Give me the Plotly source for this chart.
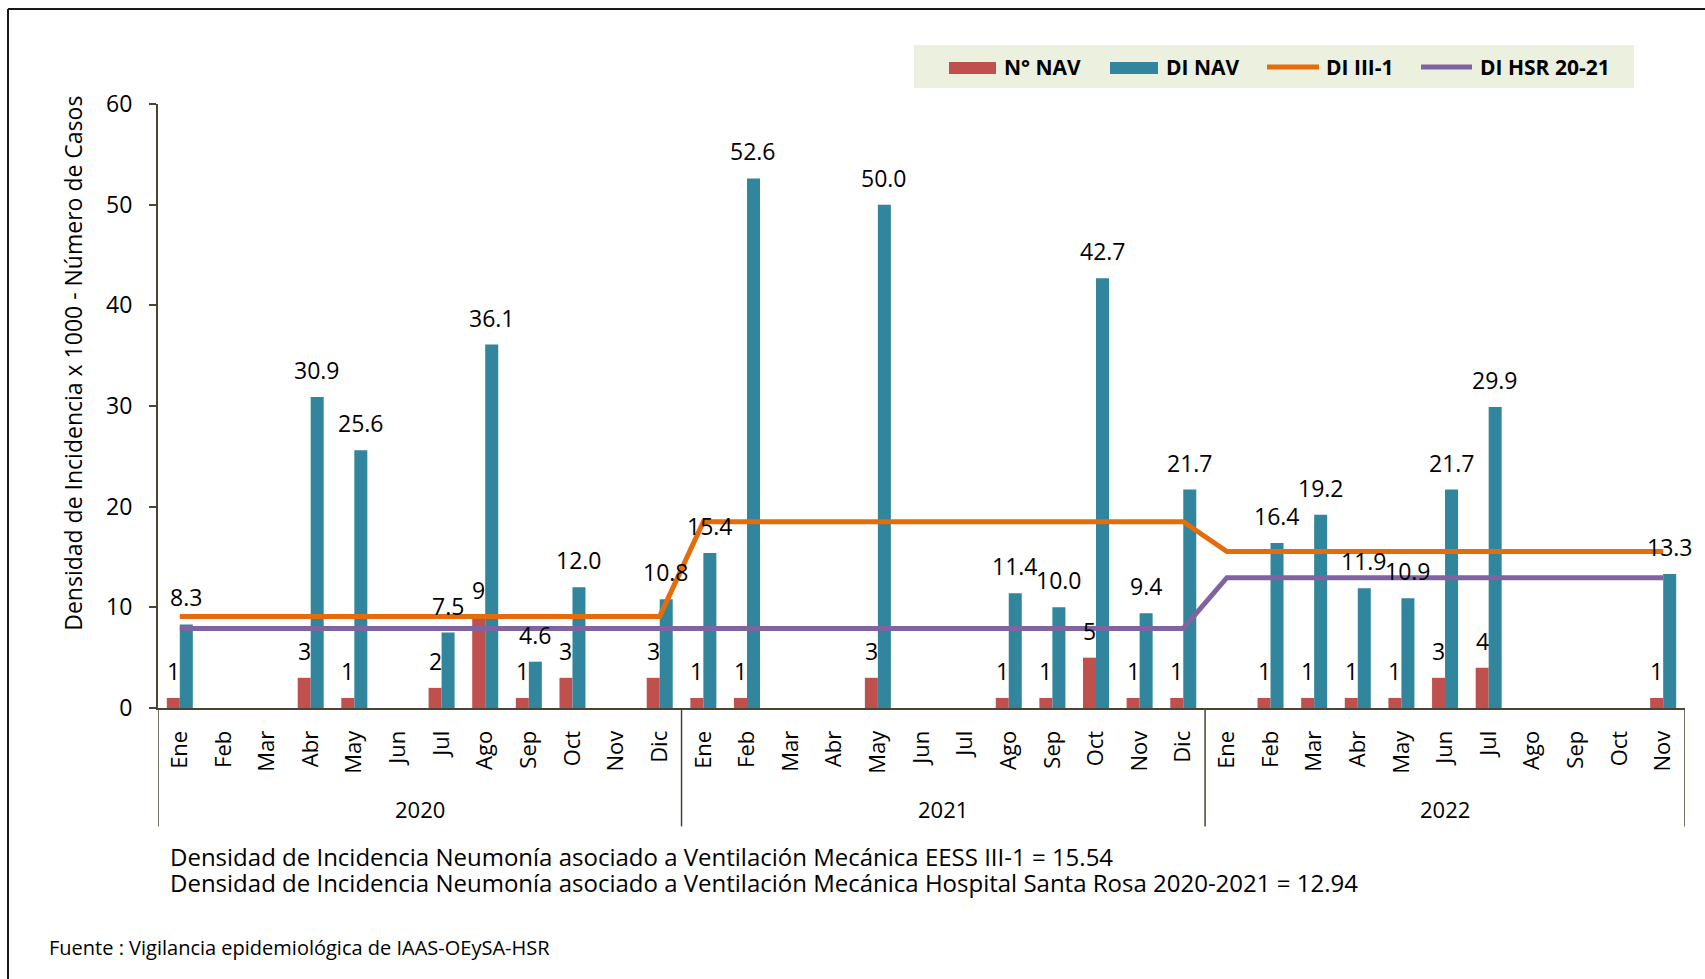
import plotly.graph_objects as go

# ---------------- data ----------------
years = ["2020", "2021", "2022"]
months_2020 = ["Ene", "Feb", "Mar", "Abr", "May", "Jun", "Jul", "Ago", "Sep", "Oct", "Nov", "Dic"]
months_2021 = ["Ene", "Feb", "Mar", "Abr", "May", "Jun", "Jul", "Ago", "Sep", "Oct", "Nov", "Dic"]
months_2022 = ["Ene", "Feb", "Mar", "Abr", "May", "Jun", "Jul", "Ago", "Sep", "Oct", "Nov"]

# DI NAV (density of incidence x 1000)
di_nav = [8.3, None, None, 30.9, 25.6, None, 7.5, 36.1, 4.6, 12.0, None, 10.8,
          15.4, 52.6, None, None, 50.0, None, None, 11.4, 10.0, 42.7, 9.4, 21.7,
          None, 16.4, 19.2, 11.9, 10.9, 21.7, 29.9, None, None, None, 13.3]
# N° NAV (number of cases)
n_nav = [1, None, None, 3, 1, None, 2, 9, 1, 3, None, 3,
         1, 1, None, None, 3, None, None, 1, 1, 5, 1, 1,
         None, 1, 1, 1, 1, 3, 4, None, None, None, 1]
# DI III-1 reference line
di_iii1 = [9.1, 9.1, 9.1, 9.1, 9.1, 9.1, 9.1, 9.1, 9.1, 9.1, 9.1, 9.1,
           18.5, 18.5, 18.5, 18.5, 18.5, 18.5, 18.5, 18.5, 18.5, 18.5, 18.5, 18.5,
           15.54, 15.54, 15.54, 15.54, 15.54, 15.54, 15.54, 15.54, 15.54, 15.54, 15.54]
# DI HSR 20-21 reference line
di_hsr = [7.9, 7.9, 7.9, 7.9, 7.9, 7.9, 7.9, 7.9, 7.9, 7.9, 7.9, 7.9,
          7.9, 7.9, 7.9, 7.9, 7.9, 7.9, 7.9, 7.9, 7.9, 7.9, 7.9, 7.9,
          12.94, 12.94, 12.94, 12.94, 12.94, 12.94, 12.94, 12.94, 12.94, 12.94, 12.94]

y_ticks = [0, 10, 20, 30, 40, 50, 60]

note_1 = "Densidad de Incidencia Neumonía asociado a Ventilación Mecánica EESS III-1 = 15.54"
note_2 = "Densidad de Incidencia Neumonía asociado a Ventilación Mecánica Hospital Santa Rosa 2020-2021 = 12.94"
source = "Fuente : Vigilancia epidemiológica de IAAS-OEySA-HSR"
y_title = "Densidad de Incidencia x 1000 - Número de Casos"

# ---------------- build ----------------
groups = [(years[0], months_2020), (years[1], months_2021), (years[2], months_2022)]
cats, months = [], []
for yr, ms in groups:
    for m in ms:
        cats.append(f"{m} {yr}")
        months.append(m)

FONT = "Open Sans"
RED = "#C0504D"
BLUE = "#31859C"
ORANGE = "#E46C0A"
PURPLE = "#8064A2"
AXIS = "#4A4530"

W, H = 1705, 979
PL, PR, PT, PB = 158, 1685, 104, 708.5
BARGAP = 0.404


def fx(px):
    return (px - PL) / (PR - PL)


def fy(py):
    return (PB - py) / (PB - PT)


fig = go.Figure()
fig.add_trace(go.Bar(
    x=cats, y=n_nav, name="N° NAV", marker=dict(color=RED, line=dict(width=0)),
    showlegend=False))
fig.add_trace(go.Bar(
    x=cats, y=di_nav, name="DI NAV", marker=dict(color=BLUE, line=dict(width=0)),
    showlegend=False))
fig.add_trace(go.Scatter(
    x=cats, y=di_iii1, name="DI III-1", mode="lines",
    line=dict(color=ORANGE, width=5), showlegend=False, cliponaxis=False))
fig.add_trace(go.Scatter(
    x=cats, y=di_hsr, name="DI HSR 20-21", mode="lines",
    line=dict(color=PURPLE, width=5), showlegend=False, cliponaxis=False))

shapes = []
annotations = []

# data labels above each bar (half a bar width left / right of the category centre)
cat_px = (PR - PL) / len(cats)
half_bar = cat_px * (1 - BARGAP) / 4
LABEL_FONT = dict(family=FONT, size=23, color="black")
for c, v in zip(cats, n_nav):
    if v is not None:
        annotations.append(dict(x=c, y=v, xref="x", yref="y", text=f"{v}", showarrow=False,
                                xanchor="center", yanchor="bottom", xshift=-half_bar, yshift=9,
                                font=LABEL_FONT))
for c, v in zip(cats, di_nav):
    if v is not None:
        annotations.append(dict(x=c, y=v, xref="x", yref="y", text=f"{v:.1f}", showarrow=False,
                                xanchor="center", yanchor="bottom", xshift=half_bar, yshift=9,
                                font=LABEL_FONT))

# group dividers and year labels
start = 0
for yr, ms in groups:
    n = len(ms)
    annotations.append(dict(x=start + (n - 1) / 2, xref="x", y=fy(810), yref="paper",
                            text=yr, showarrow=False, xanchor="center", yanchor="middle",
                            font=dict(family=FONT, size=22, color="black")))
    shapes.append(dict(type="line", xref="x", yref="paper", x0=start - 0.5, x1=start - 0.5,
                       y0=0, y1=fy(827), line=dict(color=AXIS, width=1.5)))
    start += n
shapes.append(dict(type="line", xref="x", yref="paper", x0=start - 0.5, x1=start - 0.5,
                   y0=0, y1=fy(827), line=dict(color=AXIS, width=1.5)))

# outer frame (left and top edges visible)
shapes.append(dict(type="line", xref="paper", yref="paper", x0=fx(8), x1=fx(8),
                   y0=fy(9), y1=fy(990), line=dict(color="#1a1a1a", width=2)))
shapes.append(dict(type="line", xref="paper", yref="paper", x0=fx(8), x1=fx(1720),
                   y0=fy(9), y1=fy(9), line=dict(color="#1a1a1a", width=2)))

# legend box
shapes.append(dict(type="rect", xref="paper", yref="paper", x0=fx(914), x1=fx(1634),
                   y0=fy(45), y1=fy(88), fillcolor="#EBF1DE", line=dict(width=0), layer="below"))
legend_items = [
    ("N° NAV", "bar", RED, 949, 996, 1002),
    ("DI NAV", "bar", BLUE, 1110, 1158, 1164),
    ("DI III-1", "line", ORANGE, 1267, 1319, 1324),
    ("DI HSR 20-21", "line", PURPLE, 1421, 1472, 1478),
]
for label, kind, col, sx0, sx1, tx in legend_items:
    if kind == "bar":
        shapes.append(dict(type="rect", xref="paper", yref="paper", x0=fx(sx0), x1=fx(sx1),
                           y0=fy(62), y1=fy(74), fillcolor=col, line=dict(width=0)))
    else:
        shapes.append(dict(type="line", xref="paper", yref="paper", x0=fx(sx0), x1=fx(sx1),
                           y0=fy(67), y1=fy(67), line=dict(color=col, width=5)))
    annotations.append(dict(x=fx(tx), xref="paper", y=fy(67), yref="paper", text=label,
                            showarrow=False, xanchor="left", yanchor="middle",
                            font=dict(family=FONT, size=21, color="black", weight="bold")))

# y-axis title
annotations.append(dict(x=fx(73), xref="paper", y=fy(364), yref="paper", text=y_title,
                        textangle=-90, showarrow=False, xanchor="center", yanchor="middle",
                        font=dict(family=FONT, size=23, color="black")))
# notes
annotations.append(dict(x=fx(168), xref="paper", y=fy(857), yref="paper", text=note_1,
                        showarrow=False, xanchor="left", yanchor="middle",
                        font=dict(family=FONT, size=24, color="black")))
annotations.append(dict(x=fx(168), xref="paper", y=fy(883), yref="paper", text=note_2,
                        showarrow=False, xanchor="left", yanchor="middle",
                        font=dict(family=FONT, size=24, color="black")))
annotations.append(dict(x=fx(47), xref="paper", y=fy(948), yref="paper", text=source,
                        showarrow=False, xanchor="left", yanchor="middle",
                        font=dict(family=FONT, size=20, color="black")))

fig.update_layout(
    width=W, height=H,
    margin=dict(l=PL, r=W - PR, t=PT, b=H - PB, pad=0),
    paper_bgcolor="white", plot_bgcolor="white",
    barmode="group", bargap=BARGAP, bargroupgap=0,
    showlegend=False,
    font=dict(family=FONT, color="black"),
    shapes=shapes, annotations=annotations,
    xaxis=dict(type="category", categoryorder="array", categoryarray=cats,
               tickmode="array", tickvals=cats, ticktext=months, tickangle=-90,
               tickfont=dict(family=FONT, size=22, color="black"),
               ticks="", showline=True, linecolor=AXIS, linewidth=2,
               showgrid=False, zeroline=False, range=[-0.5, len(cats) - 0.5],
               ticklabelstandoff=12),
    yaxis=dict(range=[0, 60], tickmode="array", tickvals=y_ticks,
               tickfont=dict(family=FONT, size=23, color="black"),
               ticks="outside", ticklen=7, tickcolor=AXIS, tickwidth=1.5,
               showline=True, linecolor=AXIS, linewidth=2,
               showgrid=False, zeroline=False, ticklabelstandoff=12),
)

fig.write_html("out.html", config={"displayModeBar": False},
               post_script="document.body.style.margin='0';")
